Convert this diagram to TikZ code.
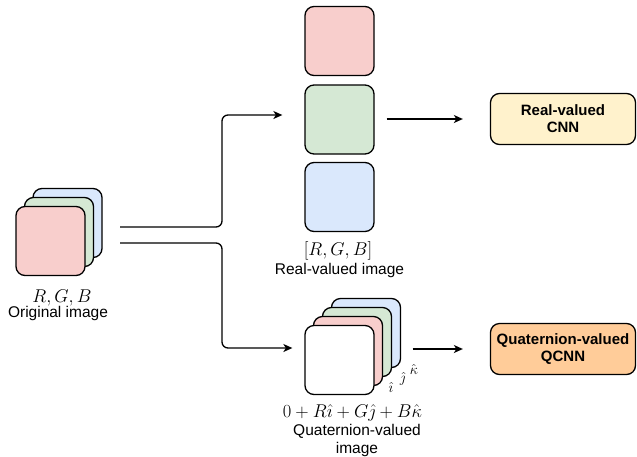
\RequirePackage{fix-cm}
\documentclass[tikz,border=0pt]{standalone}
\usepackage{amsmath}
\usepackage{fontspec}
\setmainfont{Liberation Sans}
\usepackage{xcolor}
\usepackage{tikz}
\usetikzlibrary{arrows.meta,positioning}

\definecolor{redch}{HTML}{F8CECC}
\definecolor{greench}{HTML}{D5E8D4}
\definecolor{bluech}{HTML}{DAE8FC}
\definecolor{cnnfill}{HTML}{FFF2CC}
\definecolor{qcnnfill}{HTML}{FFCC99}

\tikzset{
  chan/.style={draw=black, line width=1.3pt, rounded corners=9pt,
    minimum width=69pt, minimum height=69pt, inner sep=0pt},
  netbox/.style={draw=black, line width=1.3pt, rounded corners=9pt,
    minimum width=145pt, minimum height=51pt, align=center,
    font=\bfseries\fontsize{15}{17}\selectfont},
  lbl/.style={inner sep=0pt, align=center, font=\fontsize{15.5}{18}\selectfont},
  mlbl/.style={inner sep=0pt, anchor=base, font=\fontsize{18.5}{20}\selectfont},
  unitlbl/.style={inner sep=0pt, font=\fontsize{14.5}{14.5}\selectfont},
  flow/.style={line width=1.3pt, rounded corners=6pt,
    -{Stealth[length=9pt,width=8pt,inset=2.5pt]}},
}

\begin{document}
\begin{tikzpicture}[x=1pt,y=-1pt]
            \path[use as bounding box] (0,0) rectangle (637,456);
            \node[chan, fill=bluech]  (origB) at (67.5,223) {};
            \node[chan, fill=greench] (origG) at (59,232) {};
            \node[chan, fill=redch]   (origR) at (50.5,241) {};
            \node[mlbl] (origmath) at (62,302) {$R,G,B$};
            \node[lbl, anchor=base] (origtxt) at (58,317) {Original image};
            \node[chan, fill=redch]   (realR) at (339.5,41) {};
            \node[chan, fill=greench] (realG) at (339.5,119.5) {};
            \node[chan, fill=bluech]  (realB) at (339.5,197) {};
            \node[mlbl] (realmath) at (338,255) {$[R,G,B]$};
            \node[lbl, anchor=base] (realtxt) at (339.5,274) {Real-valued image};
            \node[chan, fill=bluech]  (quatB) at (366,333) {};
            \node[chan, fill=greench] (quatG) at (357,342) {};
            \node[chan, fill=redch]   (quatR) at (348,351) {};
            \node[chan, fill=white]   (quatO) at (339.5,360) {};
            \node[unitlbl] (hati) at (391,387) {$\hat{\imath}$};
            \node[unitlbl] (hatj) at (402.5,378.5) {$\hat{\jmath}$};
            \node[unitlbl] (hatk) at (414,369) {$\hat{\kappa}$};
            \node[mlbl] (quatmath) at (352.5,417) {$0+R\hat{\imath}+G\hat{\jmath}+B\hat{\kappa}$};
            \node[lbl]  (quattxt)  at (357,440) {Quaternion-valued\\image};
            \node[netbox, fill=cnnfill]  (cnn)  at (563,119) {Real-valued\\CNN};
            \node[netbox, fill=qcnnfill] (qcnn) at (563,349) {Quaternion-valued\\QCNN};
            \coordinate (splitA) at (120,227);
            \coordinate (splitB) at (120,243);
            \draw[flow, shorten >=22pt] (splitA) -| (222,115) -- (realG.west |- 0,115);
            \draw[flow, shorten >=12pt] (splitB) -| (222,348) -- (quatO.west |- 0,348);
            \draw[flow, shorten <=12pt, shorten >=27pt] (realG.east |- cnn.west) -- (cnn.west);
            \draw[flow, shorten <=38pt, shorten >=27pt] (quatO.east |- qcnn.west) -- (qcnn.west);
\end{tikzpicture}
\end{document}
